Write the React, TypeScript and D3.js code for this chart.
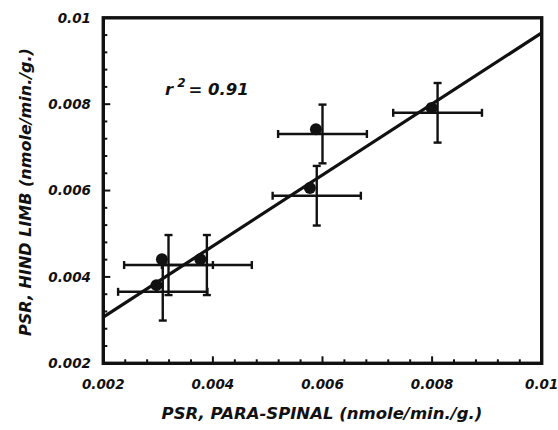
import React from "react";
import * as d3 from "d3";

// Mean values (dot positions)
const pointX = [0.00297, 0.00307, 0.00377, 0.00588, 0.00577, 0.00799];
const pointY = [0.00381, 0.00441, 0.00441, 0.00742, 0.00606, 0.00791];
// Error bar extents
const xLow = [0.00227, 0.00238, 0.00307, 0.00519, 0.00509, 0.00729];
const xHigh = [0.0039, 0.004, 0.00471, 0.00681, 0.0067, 0.00891];
const yLow = [0.00299, 0.00358, 0.00358, 0.00663, 0.00519, 0.00711];
const yHigh = [0.00432, 0.00497, 0.00497, 0.00799, 0.00657, 0.00849];
// Regression
const slope = 0.8225;
const intercept = 0.001425;
const rSquared = "0.91";
// Axes
const majorTicks = [0.002, 0.004, 0.006, 0.008, 0.01];
const majorTickLabels = ["0.002", "0.004", "0.006", "0.008", "0.01"];
const xTitle = "PSR, PARA-SPINAL (nmole/min./g.)";
const yTitle = "PSR, HIND LIMB (nmole/min./g.)";

const W = 558;
const H = 430;
const L = 103.3, R = 541.7, T = 17.8, B = 363.3;
const FONT = "'DejaVu Sans', Verdana, sans-serif";

export default function App() {
  const x = d3.scaleLinear().domain([0.002, 0.01]).range([L, R]);
  const y = d3.scaleLinear().domain([0.002, 0.01]).range([B, T]);
  const minor = d3.range(0, 21).map((i) => 0.002 + i * 0.0004);
  const isMajor = (v: number) => majorTicks.some((m) => Math.abs(m - v) < 1e-9);
  const capH = 4;
  const lineGen = d3
    .line<number>()
    .x((v) => x(v))
    .y((v) => y(intercept + slope * v));
  const textStyle = {
    fontFamily: FONT,
    fontWeight: "bold" as const,
    fontStyle: "italic" as const,
    fill: "#111",
  };

  return (
    <svg
      width={W}
      height={H}
      style={{ position: "absolute", left: 0, top: 0, background: "#fff" }}
    >
      <rect x={0} y={0} width={W} height={H} fill="#fff" />
      {/* ticks */}
      {minor.map((v, i) => {
        const len = isMajor(v) ? 7 : 4;
        return (
          <g key={"t" + i} stroke="#111" strokeWidth={2}>
            <line x1={x(v)} x2={x(v)} y1={B} y2={B - len} />
            <line x1={L} x2={L + len} y1={y(v)} y2={y(v)} />
          </g>
        );
      })}
      {/* error bars */}
      {pointX.map((_, i) => {
        const cx = x((xLow[i] + xHigh[i]) / 2);
        const cy = y((yLow[i] + yHigh[i]) / 2);
        return (
          <g key={"e" + i} stroke="#111" strokeWidth={2.4}>
            <line x1={x(xLow[i])} x2={x(xHigh[i])} y1={cy} y2={cy} />
            <line x1={x(xLow[i])} x2={x(xLow[i])} y1={cy - capH} y2={cy + capH} />
            <line x1={x(xHigh[i])} x2={x(xHigh[i])} y1={cy - capH} y2={cy + capH} />
            <line x1={cx} x2={cx} y1={y(yLow[i])} y2={y(yHigh[i])} />
            <line x1={cx - capH} x2={cx + capH} y1={y(yLow[i])} y2={y(yLow[i])} />
            <line x1={cx - capH} x2={cx + capH} y1={y(yHigh[i])} y2={y(yHigh[i])} />
          </g>
        );
      })}
      {/* points */}
      {pointX.map((v, i) => (
        <circle key={"p" + i} cx={x(v)} cy={y(pointY[i])} r={6} fill="#111" />
      ))}
      {/* regression line */}
      <path d={lineGen([0.002, 0.01]) || ""} stroke="#111" strokeWidth={3.2} fill="none" />
      {/* frame */}
      <rect x={L} y={T} width={R - L} height={B - T} fill="none" stroke="#111" strokeWidth={3.4} />
      {/* tick labels */}
      {majorTicks.map((v, i) => (
        <text key={"xl" + i} x={x(v)} y={389} textAnchor="middle" fontSize={13.5} style={textStyle}>
          {majorTickLabels[i]}
        </text>
      ))}
      {majorTicks.map((v, i) => (
        <text
          key={"yl" + i}
          x={91}
          y={y(v)}
          dy="0.36em"
          textAnchor="end"
          fontSize={13.5}
          style={textStyle}
        >
          {majorTickLabels[i]}
        </text>
      ))}
      {/* r² */}
      <text x={165} y={95} fontSize={16.5} style={textStyle}>
        r
        <tspan fontSize={12} dy={-8} dx={4}>2</tspan>
        <tspan dy={8} dx={3}>= {rSquared}</tspan>
      </text>
      {/* axis titles */}
      <text x={322} y={419} textAnchor="middle" fontSize={16.5} style={textStyle}>
        {xTitle}
      </text>
      <text
        transform={`translate(31, 192) rotate(-90)`}
        textAnchor="middle"
        fontSize={16}
        style={textStyle}
      >
        {yTitle}
      </text>
    </svg>
  );
}
